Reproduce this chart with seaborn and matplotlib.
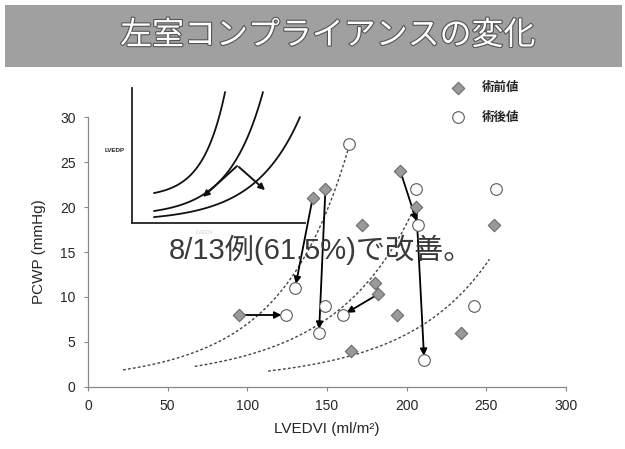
import numpy as np
import pandas as pd
import matplotlib
matplotlib.use("Agg")
import matplotlib.pyplot as plt
import matplotlib.patheffects as pe
from matplotlib.patches import Rectangle
import seaborn as sns

# ---- data -------------------------------------------------------------
pre_x = [95, 141, 149, 172, 196, 206, 180, 182, 194, 165, 234, 255]
pre_y = [8, 21, 22, 18, 24, 20, 11.5, 10.3, 8, 4, 6, 18]
post_x = [124, 130, 145, 149, 160, 164, 206, 207, 211, 242, 256]
post_y = [8, 11, 6, 9, 8, 27, 22, 18, 3, 9, 22]

# arrows: (from set, index, to set, index)
arrows = [
    ("pre", 0, "post", 0),
    ("pre", 1, "post", 1),
    ("pre", 2, "post", 2),
    ("pre", 4, "post", 7),
    ("pre", 5, "post", 8),
    ("pre", 6, "pre", 7),
    ("pre", 7, "post", 4),
]

# compliance curves: points (LVEDVI, PCWP)
curve1_x = [22, 95, 106, 133, 147.5, 164]
curve1_y = [1.9, 6.3, 8.1, 13.3, 18.6, 27]
curve2_x = [67, 141, 175, 205]
curve2_y = [2.3, 6.3, 12.2, 19.5]
curve3_x = [113, 133, 210, 252]
curve3_y = [1.8, 2.2, 7.0, 14.1]

x_ticks = [0, 50, 100, 150, 200, 250, 300]
y_ticks = [0, 5, 10, 15, 20, 25, 30]

title = "左室コンプライアンスの変化"
note = "8/13例(61.5%)で改善。"
label_pre = "術前値"
label_post = "術後値"
x_label = "LVEDVI (ml/m²)"
y_label = "PCWP (mmHg)"

# schematic inset: start/end of three pressure-volume curves (unit box)
inset_start_x = [0.127, 0.127, 0.127]
inset_start_y = [0.222, 0.089, 0.044]
inset_end_x = [0.538, 0.757, 0.971]
inset_end_y = [0.97, 0.97, 0.785]

# ---- style ------------------------------------------------------------
sns.set_style("white")
plt.rcParams["font.family"] = ["Liberation Sans", "Noto Sans CJK JP", "DejaVu Sans"]

fig = plt.figure(figsize=(6.25, 4.49), dpi=100)
ax = fig.add_axes([0.1408, 0.1381, 0.7648, 0.6013])

# title band
fig.patches.append(Rectangle((0.008, 0.851), 0.987, 0.138, transform=fig.transFigure,
                             facecolor="#a0a0a0", edgecolor="none", zorder=0))
fig.text(0.525, 0.921, title, ha="center", va="center", fontsize=23, color="white",
         family=["Noto Sans CJK JP"],
         path_effects=[pe.withStroke(linewidth=1.6, foreground="#555555")])

# fitted compliance curves (log-quadratic fit through read points)
for cx, cy in [(curve1_x, curve1_y), (curve2_x, curve2_y), (curve3_x, curve3_y)]:
    coef = np.polyfit(cx, np.log(cy), 2)
    xs = np.linspace(min(cx), max(cx), 200)
    df_c = pd.DataFrame({"x": xs, "y": np.exp(np.polyval(coef, xs))})
    sns.lineplot(data=df_c, x="x", y="y", ax=ax, color="#444444", lw=1.0,
                 linestyle=(0, (2.0, 1.6)), zorder=2)

# arrows between pre and post values
pts = {"pre": (pre_x, pre_y), "post": (post_x, post_y)}
for s0, i0, s1, i1 in arrows:
    x0, y0 = pts[s0][0][i0], pts[s0][1][i0]
    x1, y1 = pts[s1][0][i1], pts[s1][1][i1]
    ax.annotate("", xy=(x1, y1), xytext=(x0, y0),
                arrowprops=dict(arrowstyle="-|>", color="black", lw=1.3,
                                mutation_scale=10, shrinkA=2, shrinkB=3),
                zorder=4)

df_pre = pd.DataFrame({"x": pre_x, "y": pre_y})
df_post = pd.DataFrame({"x": post_x, "y": post_y})
sns.scatterplot(data=df_pre, x="x", y="y", ax=ax, marker="D", s=40,
                color="#9a9a9a", edgecolor="#6a6a6a", linewidth=0.8,
                label=label_pre, zorder=5)
sns.scatterplot(data=df_post, x="x", y="y", ax=ax, marker="o", s=70,
                facecolor="white", edgecolor="#5a5a5a", linewidth=0.8,
                label=label_post, zorder=5)

ax.set_xlim(0, 300)
ax.set_ylim(0, 30)
ax.set_xticks(x_ticks)
ax.set_yticks(y_ticks)
ax.tick_params(axis="both", labelsize=10, length=3, width=0.8, color="#888888",
               direction="out", pad=6, left=True, bottom=True)
for side in ["top", "right"]:
    ax.spines[side].set_visible(False)
for side in ["left", "bottom"]:
    ax.spines[side].set_color("#888888")
    ax.spines[side].set_linewidth(0.9)
ax.set_xlabel(x_label, fontsize=11, labelpad=6)
ax.set_ylabel(y_label, fontsize=11, labelpad=10)

ax.text(146, 15.2, note, ha="center", va="center", fontsize=21, color="#3a3a3a",
        family=["Liberation Sans", "Noto Sans CJK JP"], zorder=6)

leg = ax.legend(loc="upper left", bbox_to_anchor=(0.705, 0.83),
                bbox_transform=fig.transFigure, frameon=False,
                labelspacing=1.3, handletextpad=0.9, borderaxespad=0,
                prop={"family": ["Noto Sans CJK JP"], "size": 9, "weight": "bold"})

# schematic inset
ins = fig.add_axes([0.2112, 0.5033, 0.2768, 0.3007])
ins.set_facecolor("none")
ins.set_xlim(0, 1)
ins.set_ylim(0, 1)
ins.set_xticks([])
ins.set_yticks([])
for side in ["top", "right"]:
    ins.spines[side].set_visible(False)
for side in ["left", "bottom"]:
    ins.spines[side].set_color("#222222")
    ins.spines[side].set_linewidth(1.3)
t = np.linspace(0, 1, 100)
for xs0, ys0, xs1, ys1 in zip(inset_start_x, inset_start_y, inset_end_x, inset_end_y):
    shape = (np.exp(3.2 * t) - 1) / (np.exp(3.2) - 1)
    ins.plot(xs0 + (xs1 - xs0) * t, ys0 + (ys1 - ys0) * shape, color="#111111", lw=1.3)
ins.annotate("", xy=(0.41, 0.193), xytext=(0.607, 0.422),
             arrowprops=dict(arrowstyle="-|>", color="#111111", lw=1.4, mutation_scale=9,
                             shrinkA=0, shrinkB=0))
ins.annotate("", xy=(0.769, 0.244), xytext=(0.618, 0.415),
             arrowprops=dict(arrowstyle="-|>", color="#111111", lw=1.4, mutation_scale=9,
                             shrinkA=0, shrinkB=0))
ins.text(-0.1, 0.54, "LVEDP", fontsize=4.5, ha="center", va="center", color="#222222",
         weight="bold")
ins.text(0.42, -0.07, "LVEDV", fontsize=4, ha="center", va="center", color="#cccccc")

fig.savefig("out.png", dpi=100)
